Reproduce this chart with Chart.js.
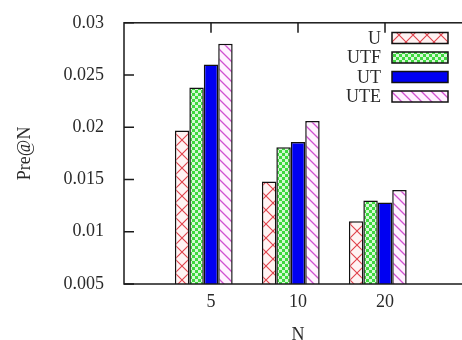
<!DOCTYPE html>
<html>
<head>
<meta charset="utf-8">
<script src="https://cdn.jsdelivr.net/npm/chart.js@4/dist/chart.umd.min.js"></script>
<style>
  html, body { margin: 0; padding: 0; background: #fff; overflow: hidden; }
  #wrap { position: relative; width: 472px; height: 340px; }
</style>
</head>
<body>
<div id="wrap"><canvas id="chart"></canvas></div>
<script>
const categories = ['5', '10', '20'];
const seriesNames = ['U', 'UTF', 'UT', 'UTE'];
const valuesU   = [0.0197, 0.0148, 0.0110];
const valuesUTF = [0.0238, 0.0181, 0.0130];
const valuesUT  = [0.0260, 0.0186, 0.0128];
const valuesUTE = [0.0280, 0.0206, 0.0140];
const yTicks = [0.005, 0.01, 0.015, 0.02, 0.025, 0.03];

const TEXT = '#2a2a2a';
const FONT = "'Liberation Serif', 'DejaVu Serif', serif";

function makePattern(size, draw) {
  const c = document.createElement('canvas');
  c.width = size; c.height = size;
  const g = c.getContext('2d');
  draw(g, size);
  return document.getElementById('chart').getContext('2d').createPattern(c, 'repeat');
}

// crosshatch, red
const patU = makePattern(14, (g, s) => {
  g.fillStyle = '#fff3f3'; g.fillRect(0, 0, s, s);
  g.strokeStyle = '#e0404a'; g.lineWidth = 1.1;
  g.beginPath();
  g.moveTo(0, 0); g.lineTo(s, s);
  g.moveTo(s, 0); g.lineTo(0, s);
  g.stroke();
});
// small checkers, green
const patUTF = makePattern(6, (g, s) => {
  g.fillStyle = '#3ed83e'; g.fillRect(0, 0, s, s);
  g.fillStyle = '#d6f8d6';
  g.fillRect(0, 0, 3, 3); g.fillRect(3, 3, 3, 3);
});
// diagonal "\" lines, magenta
const patUTE = makePattern(10, (g, s) => {
  g.fillStyle = '#fff2ff'; g.fillRect(0, 0, s, s);
  g.strokeStyle = '#d050d0'; g.lineWidth = 1.3;
  g.beginPath();
  g.moveTo(-1, -1); g.lineTo(s + 1, s + 1);
  g.moveTo(-1, s - 1); g.lineTo(1, s + 1);
  g.moveTo(s - 1, -1); g.lineTo(s + 1, 1);
  g.stroke();
});

const fills = [patU, patUTF, '#0000f2', patUTE];
const seriesValues = [valuesU, valuesUTF, valuesUT, valuesUTE];

const datasets = seriesNames.map((name, i) => ({
  label: name,
  data: seriesValues[i].map((v, k) => ({ x: k + 1, y: v })),
  backgroundColor: fills[i],
  borderColor: '#111',
  borderWidth: 1.5,
  borderSkipped: false,
}));
// empty gap slot, like gnuplot's clustered histogram gap
datasets.push({ label: '', data: [], backgroundColor: 'transparent', borderWidth: 0 });

// frame, inward ticks and the key in the upper right
const framePlugin = {
  id: 'frame',
  afterDraw(chart) {
    const { ctx, chartArea: { left, right, top, bottom } } = chart;
    const xs = chart.scales.x, ys = chart.scales.y;
    ctx.save();
    ctx.strokeStyle = '#1a1a1a';
    ctx.lineWidth = 1.5;
    ctx.strokeRect(left, top, right - left, bottom - top);
    ctx.beginPath();
    yTicks.forEach(v => {
      const y = ys.getPixelForValue(v);
      ctx.moveTo(left, y); ctx.lineTo(left + 10, y);
      ctx.moveTo(right, y); ctx.lineTo(right - 10, y);
    });
    categories.forEach((c, k) => {
      const x = xs.getPixelForValue(k + 1);
      ctx.moveTo(x, top); ctx.lineTo(x, top + 10);
    });
    ctx.stroke();

    // key
    ctx.font = '18px ' + FONT;
    ctx.textAlign = 'right';
    ctx.textBaseline = 'middle';
    const rowY = [38, 57.5, 77, 96.5];
    seriesNames.forEach((name, i) => {
      const y = rowY[i];
      ctx.fillStyle = TEXT;
      ctx.fillText(name, 381, y + 1);
      ctx.fillStyle = fills[i];
      ctx.fillRect(392, y - 5.5, 56, 11);
      ctx.strokeStyle = '#111';
      ctx.lineWidth = 1.5;
      ctx.strokeRect(392, y - 5.5, 56, 11);
    });
    ctx.restore();
  },
};

new Chart(document.getElementById('chart'), {
  type: 'bar',
  data: { datasets },
  plugins: [framePlugin],
  options: {
    responsive: true,
    maintainAspectRatio: false,
    animation: false,
    layout: { padding: { top: 20, right: 0, bottom: 0, left: 0 } },
    datasets: { bar: { categoryPercentage: 0.83, barPercentage: 1 } },
    plugins: {
      legend: { display: false },
      tooltip: { enabled: false },
    },
    scales: {
      x: {
        type: 'linear',
        min: 0,
        max: 4,
        offset: false,
        grid: { display: false },
        border: { display: false },
        afterBuildTicks: s => { s.ticks = categories.map((c, k) => ({ value: k + 1 })); },
        afterFit: s => { s.height = 56; },
        ticks: {
          color: TEXT,
          font: { family: FONT, size: 18 },
          padding: -1,
          maxRotation: 0,
          callback: v => categories[v - 1] ?? '',
        },
        title: {
          display: true,
          text: 'N',
          color: TEXT,
          font: { family: FONT, size: 18, lineHeight: 1 },
          padding: { top: 0, bottom: -4 },
        },
      },
      y: {
        min: 0.005,
        max: 0.03,
        grid: { display: false },
        border: { display: false },
        afterBuildTicks: s => { s.ticks = yTicks.map(v => ({ value: v })); },
        afterFit: s => { s.width = 124; },
        ticks: {
          color: TEXT,
          font: { family: FONT, size: 18 },
          padding: 12,
          callback: v => String(parseFloat(v.toFixed(3))),
        },
        title: {
          display: true,
          text: 'Pre@N',
          color: TEXT,
          font: { family: FONT, size: 18, lineHeight: 1 },
          padding: { top: 16, bottom: 0 },
        },
      },
    },
  },
});
</script>
</body>
</html>
